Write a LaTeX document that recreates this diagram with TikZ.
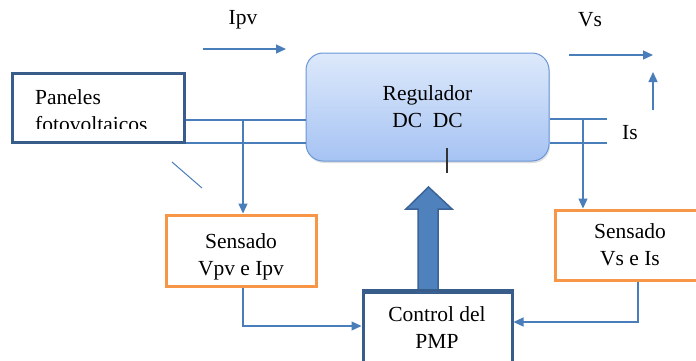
\documentclass[tikz,border=0pt]{standalone}
\usepackage{fontspec}
\newfontfamily\tnr{LiberationSerif-Regular.ttf}
\usetikzlibrary{arrows.meta,shadows}
\definecolor{wire}{HTML}{4A7EBB}
\definecolor{navy}{HTML}{385D8A}
\definecolor{orng}{HTML}{F79646}
\definecolor{regtop}{HTML}{DDE9FB}
\definecolor{regbot}{HTML}{A6C3F3}
\definecolor{regline}{HTML}{6A97D6}
\definecolor{bigfill}{HTML}{4F81BD}
\definecolor{bigline}{HTML}{3A6398}
\tikzset{
  wire/.style={draw=wire, line width=1.3pt},
  tip/.style={-{Triangle[length=10pt,width=9pt]}},
  navybox/.style={draw=navy, line width=3pt, fill=white, inner sep=0pt},
  sensebox/.style={draw=orng, line width=3pt, fill=white, align=center, inner sep=0pt},
  lbl/.style={inner sep=0pt, align=center},
  serif/.style={font=\tnr\fontsize{21.5}{27}\selectfont},
}
\begin{document}
\begin{tikzpicture}[x=1pt,y=-1pt,serif]
\useasboundingbox (0,0) rectangle (696,360);
\clip (0,0) rectangle (696,360);

% reference heights of the wire pairs
\coordinate (ya) at (0,120);
\coordinate (yb) at (0,143);
\coordinate (yc) at (0,326);
\coordinate (yd) at (0,322);

% blocks
\node[navybox, minimum width=172pt, minimum height=69pt] (paneles) at (98,107.5) {};
\begin{scope}
  \clip (14,75) rectangle (182,128);
  \node[lbl, anchor=base west, align=left] (panelestxt) at (35,131) {Paneles\\fotovoltaicos};
\end{scope}

\node[draw=regline, line width=1pt, rounded corners=17pt, top color=regtop, bottom color=regbot,
      drop shadow={shadow xshift=1pt, shadow yshift=-2pt, opacity=0.25},
      minimum width=243pt, minimum height=108pt, align=center, inner sep=0pt] (regulador) at (427.5,107)
      {Regulador\\DC\ \ DC};

\node[sensebox, minimum width=150pt, minimum height=71pt] (sensadopv) at (241,250.5) {};
\node[lbl, anchor=base] (sensadopvtxt) at (241,275) {Sensado\\Vpv e Ipv};

\node[sensebox, minimum width=150pt, minimum height=70pt] (sensadovs) at (630,245) {};
\node[lbl, anchor=base] (sensadovstxt) at (630,265) {Sensado\\Vs e Is};

\node[navybox, minimum width=149pt, minimum height=80pt] (control) at (437.5,332) {};
\node[lbl, anchor=base] (controltxt) at (437,348) {Control del\\PMP};

% free ends of the wires
\coordinate (oa) at (607,119);
\coordinate (ob) at (607,143);
\coordinate (xl) at (243,0);
\coordinate (xr) at (583,0);
\coordinate (xs) at (638,0);

% wires between panel and regulator
\draw[wire] (paneles.east |- ya) -- (regulador.west |- ya);
\draw[wire] (paneles.east |- yb) -- (regulador.west |- yb);
\draw[wire] (regulador.east |- oa) -- (oa);
\draw[wire] (regulador.east |- ob) -- (ob);

% sensing taps
\draw[wire, tip] (xl |- ya) -- (xl |- sensadopv.north);
\draw[wire, tip] (xr |- oa) -- (xr |- sensadovs.north);

% sensing outputs to the controller
\draw[wire, tip] (xl |- sensadopv.south) |- (control.west |- yc);
\draw[wire, tip] (xs |- sensadovs.south) |- (control.east |- yd);

% current / voltage arrows
\node[lbl] (ipv) at (243,20) {Ipv};
\coordinate (ipva) at (203,49);
\coordinate (ipvb) at (286,49);
\draw[wire, tip] (ipva) -- (ipvb);

\node[lbl] (vs) at (590,20) {Vs};
\coordinate (vsa) at (569,55);
\coordinate (vsb) at (653,55);
\draw[wire, tip] (vsa) -- (vsb);

\coordinate (isa) at (653,110);
\coordinate (isb) at (653,72);
\draw[wire, tip] (isa) -- (isb);
\node[lbl] (is) at (630,133) {Is};

% stray strokes
\coordinate (da) at (172,162);
\coordinate (db) at (202,188);
\draw[wire, line width=1pt] (da) -- (db);
\coordinate (ta) at (447,148);
\coordinate (tb) at (447,173);
\draw[black!80, line width=1.2pt] (ta) -- (tb);

% control signal to the regulator
\draw[fill=bigfill, draw=bigline, line width=1.5pt, line join=miter]
  (418,292) -- (418,209) -- (406,209) -- (428.5,187) -- (452,209) -- (438,209) -- (438,292) -- cycle;
\draw[navy, line width=3pt] (control.north west) -- (control.north east);
\end{tikzpicture}
\end{document}
